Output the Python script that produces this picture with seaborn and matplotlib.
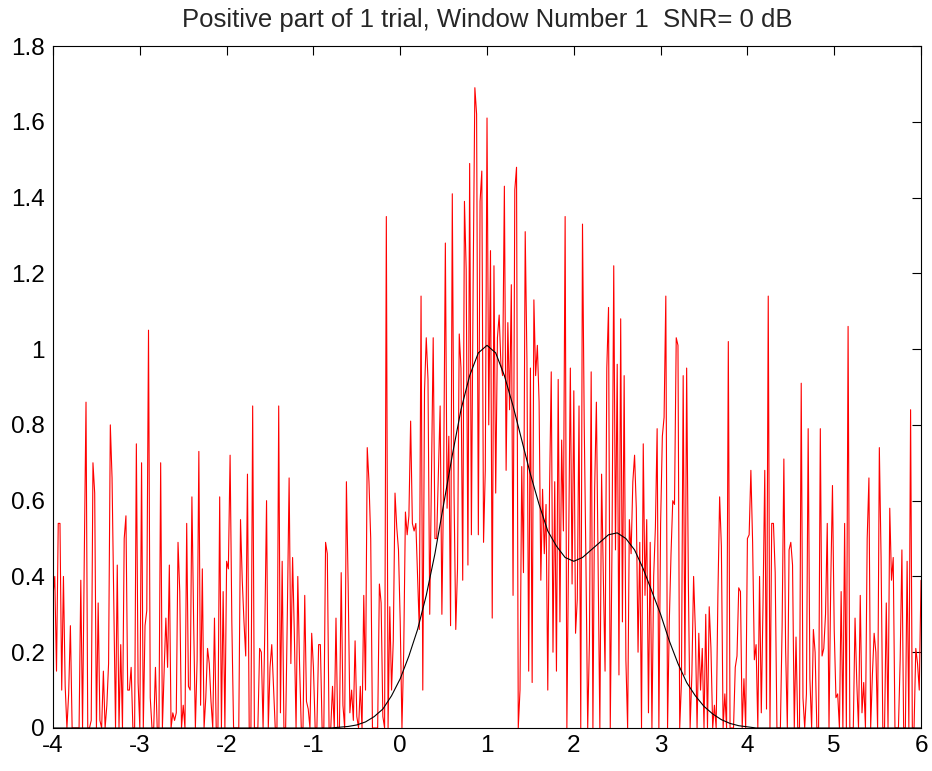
import numpy as np
import matplotlib
matplotlib.use("Agg")
import matplotlib.pyplot as plt
import seaborn as sns

sns.set_style("white")
plt.rcParams["font.family"] = ["Liberation Sans", "DejaVu Sans"]
plt.rcParams["axes.unicode_minus"] = False

# ------------------------------
# data
# ------------------------------
# noisy trial (positive part), one value every 0.02 from -4 to 6
trial_m4 = [0.35, 0.40, 0.15, 0.54, 0.54, 0.10, 0.40, 0.11, 0.0, 0.09,
            0.27, 0.0, 0.0, 0.0, 0.0, 0.0, 0.39, 0.0, 0.45, 0.86,
            0.0, 0.0, 0.02, 0.70, 0.62, 0.0, 0.33, 0.02, 0.0, 0.15,
            0.0, 0.06, 0.17, 0.80, 0.66, 0.34, 0.0, 0.43, 0.0, 0.22,
            0.0, 0.50, 0.56, 0.10, 0.10, 0.16, 0.0, 0.0, 0.75, 0.12]
trial_m3 = [0.0, 0.70, 0.0, 0.27, 0.31, 1.05, 0.08, 0.0, 0.0, 0.16,
            0.0, 0.0, 0.70, 0.0, 0.15, 0.29, 0.16, 0.43, 0.0, 0.04,
            0.02, 0.04, 0.49, 0.36, 0.0, 0.06, 0.0, 0.54, 0.11, 0.10,
            0.61, 0.28, 0.0, 0.18, 0.73, 0.06, 0.42, 0.0, 0.08, 0.21,
            0.17, 0.07, 0.0, 0.29, 0.0, 0.0, 0.61, 0.0, 0.36, 0.0]
trial_m2 = [0.44, 0.42, 0.72, 0.28, 0.0, 0.0, 0.0, 0.0, 0.55, 0.39,
            0.28, 0.19, 0.67, 0.0, 0.0, 0.85, 0.0, 0.0, 0.0, 0.21,
            0.20, 0.0, 0.26, 0.60, 0.0, 0.16, 0.22, 0.11, 0.0, 0.0,
            0.85, 0.04, 0.44, 0.0, 0.0, 0.31, 0.66, 0.17, 0.45, 0.25,
            0.0, 0.40, 0.17, 0.0, 0.0, 0.35, 0.07, 0.05, 0.0, 0.25]
trial_m1 = [0.16, 0.0, 0.0, 0.22, 0.22, 0.0, 0.0, 0.49, 0.46, 0.0,
            0.0, 0.11, 0.0, 0.29, 0.0, 0.0, 0.41, 0.06, 0.0, 0.65,
            0.38, 0.04, 0.10, 0.02, 0.23, 0.03, 0.0, 0.11, 0.0, 0.35,
            0.10, 0.74, 0.65, 0.50, 0.0, 0.0, 0.0, 0.0, 0.38, 0.33,
            0.03, 0.0, 1.35, 0.0, 0.32, 0.10, 0.23, 0.62, 0.53, 0.47]
trial_0 = [0.28, 0.0, 0.20, 0.57, 0.51, 0.56, 0.81, 0.54, 0.52, 0.54,
           0.40, 0.26, 1.14, 0.10, 0.89, 1.03, 0.92, 0.30, 0.67, 1.03,
           0.50, 0.50, 0.68, 0.85, 0.30, 0.65, 1.28, 0.58, 0.77, 0.27,
           1.41, 0.62, 0.26, 0.42, 1.04, 0.95, 0.39, 1.39, 1.21, 0.43,
           1.49, 0.51, 1.17, 1.69, 1.62, 0.51, 1.39, 1.47, 0.49, 0.68]
trial_1 = [1.61, 0.80, 1.26, 0.29, 1.22, 0.62, 1.03, 1.09, 0.96, 0.93,
           1.43, 0.68, 1.07, 0.84, 1.17, 0.35, 1.42, 1.48, 0.0, 0.10,
           0.69, 0.41, 1.31, 0.97, 0.15, 0.95, 0.12, 1.13, 0.93, 1.01,
           0.86, 0.39, 0.63, 0.46, 0.59, 0.10, 0.62, 0.94, 0.20, 0.65,
           0.15, 0.92, 0.28, 0.76, 0.52, 1.35, 0.0, 0.48, 0.95, 0.38]
trial_2 = [0.89, 0.25, 0.34, 0.85, 0.0, 1.33, 0.80, 0.43, 0.0, 0.23,
           0.94, 0.0, 0.63, 0.86, 0.43, 0.0, 0.67, 0.40, 0.15, 0.95,
           1.11, 0.0, 0.48, 1.22, 0.47, 0.96, 0.14, 1.08, 0.28, 0.93,
           0.18, 0.0, 0.55, 0.46, 0.65, 0.72, 0.58, 0.20, 0.49, 0.0,
           0.75, 0.35, 0.55, 0.04, 0.49, 0.0, 0.40, 0.53, 0.79, 0.0]
trial_3 = [0.54, 0.77, 0.82, 1.14, 0.0, 0.28, 0.46, 0.60, 0.59, 1.03,
           1.01, 0.0, 0.12, 0.93, 0.14, 0.95, 0.38, 0.0, 0.14, 0.40,
           0.26, 0.0, 0.25, 0.10, 0.21, 0.0, 0.30, 0.0, 0.32, 0.21,
           0.0, 0.06, 0.0, 0.35, 0.61, 0.48, 0.0, 0.09, 0.0, 1.02,
           0.0, 0.0, 0.0, 0.16, 0.19, 0.37, 0.36, 0.0, 0.13, 0.0]
trial_4 = [0.50, 0.51, 0.68, 0.49, 0.18, 0.22, 0.0, 0.40, 0.04, 0.33,
           0.68, 0.05, 1.14, 0.0, 0.54, 0.54, 0.41, 0.0, 0.0, 0.0,
           0.27, 0.71, 0.21, 0.0, 0.47, 0.49, 0.43, 0.0, 0.24, 0.0,
           0.0, 0.91, 0.08, 0.0, 0.09, 0.79, 0.13, 0.0, 0.26, 0.20,
           0.0, 0.0, 0.79, 0.19, 0.21, 0.30, 0.54, 0.0, 0.38, 0.64]
trial_5 = [0.26, 0.08, 0.09, 0.0, 0.36, 0.0, 0.54, 0.0, 1.06, 0.0,
           0.0, 0.0, 0.29, 0.12, 0.0, 0.35, 0.04, 0.12, 0.0, 0.50,
           0.66, 0.0, 0.14, 0.25, 0.20, 0.0, 0.74, 0.45, 0.0, 0.0,
           0.33, 0.0, 0.58, 0.39, 0.45, 0.0, 0.0, 0.0, 0.18, 0.47,
           0.0, 0.0, 0.44, 0.0, 0.84, 0.0, 0.0, 0.21, 0.17, 0.1,
           0.39]

# clean template (black curve), one value every 0.1 from -4 to 6
template_left = [0.0] * 31          # -4.0 .. -1.0, flat at zero
template_mid = [0.0, 0.0, 0.002, 0.004, 0.008, 0.016, 0.03, 0.05, 0.085, 0.13,
                0.19, 0.26, 0.35, 0.46, 0.59, 0.72, 0.84, 0.93, 0.99, 1.01,
                0.99, 0.93, 0.85, 0.76, 0.67, 0.59, 0.52, 0.48, 0.45, 0.44,
                0.45, 0.47, 0.49, 0.51, 0.515, 0.50, 0.47, 0.42, 0.36, 0.30,
                0.23, 0.17, 0.12, 0.085, 0.057, 0.037, 0.022, 0.012, 0.006, 0.003]
template_right = [0.0] * 20         # 4.1 .. 6.0

x_min, x_max = -4, 6
y_ticks = [0, 0.2, 0.4, 0.6, 0.8, 1, 1.2, 1.4, 1.6, 1.8]
y_labels = ["0", "0.2", "0.4", "0.6", "0.8", "1", "1.2", "1.4", "1.6", "1.8"]
title = "Positive part of 1 trial, Window Number 1  SNR= 0 dB"

trial = trial_m4 + trial_m3 + trial_m2 + trial_m1 + trial_0 + \
    trial_1 + trial_2 + trial_3 + trial_4 + trial_5
t_trial = np.linspace(x_min, x_max, len(trial))
template = template_left + template_mid + template_right
t_template = np.linspace(x_min, x_max, len(template))

# ------------------------------
# plot
# ------------------------------
fig = plt.figure(figsize=(9.32, 7.71), dpi=100)
ax = fig.add_axes([0.0569, 0.0558, 0.9313, 0.8845])

sns.lineplot(x=t_trial, y=trial, color="#ff0000", linewidth=0.8,
             estimator=None, ax=ax)
sns.lineplot(x=t_template, y=template, color="black", linewidth=0.8,
             estimator=None, ax=ax)

ax.set_xlim(x_min, x_max)
ax.set_ylim(0, 1.8)
ax.set_xticks(range(x_min, x_max + 1))
ax.set_yticks(y_ticks)
ax.set_yticklabels(y_labels)
ax.tick_params(direction="in", top=True, right=True, length=6.5, width=0.8,
               labelsize=17.5, colors="black")
ax.tick_params(axis="y", pad=6)
ax.tick_params(axis="x", pad=5)
for s in ax.spines.values():
    s.set_color("black")
    s.set_linewidth(0.8)
ax.set_title(title, fontsize=18.5, pad=14)

fig.savefig("out.png", dpi=100)
